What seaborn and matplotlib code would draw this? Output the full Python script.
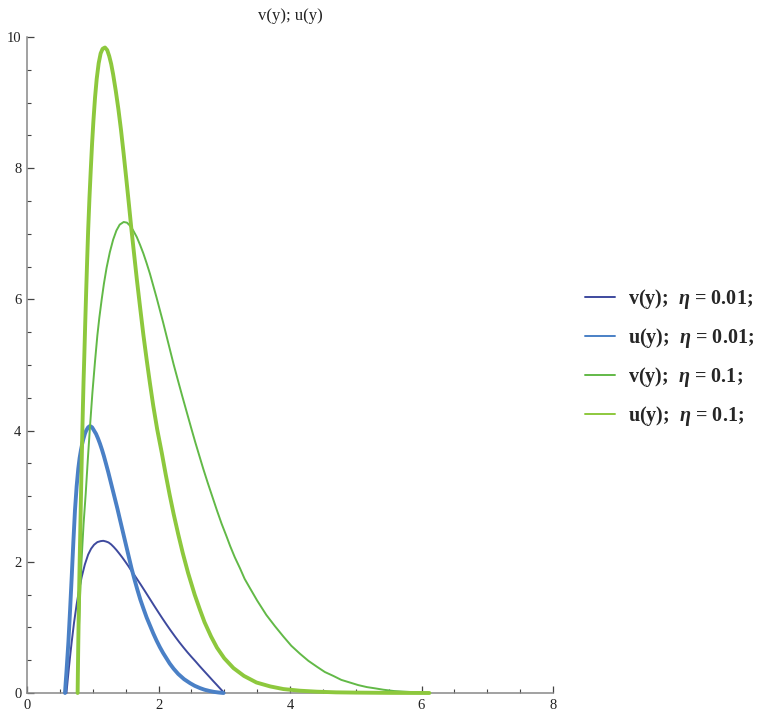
import matplotlib
matplotlib.use("Agg")
import matplotlib.pyplot as plt
from matplotlib.ticker import MultipleLocator
from matplotlib.lines import Line2D
import seaborn as sns

# ---- data ----
x_v01 = [0.60, 0.62, 0.64, 0.66, 0.68, 0.715, 0.755, 0.79, 0.83, 0.88, 0.93, 0.975, 1.02, 1.07,
         1.12, 1.16, 1.20, 1.24, 1.28, 1.32, 1.36, 1.40, 1.45, 1.50, 1.545, 1.59, 1.66, 1.73,
         1.80, 1.87, 1.935, 2.00, 2.06, 2.12, 2.185, 2.25, 2.315, 2.38, 2.44, 2.50, 2.565,
         2.63, 2.695, 2.76, 2.825, 2.89, 2.945, 3.00]
y_v01 = [0.0, 0.21, 0.41, 0.60, 0.78, 1.07, 1.35, 1.56, 1.76, 1.96, 2.11, 2.20, 2.26, 2.30,
         2.315, 2.32, 2.31, 2.295, 2.265, 2.225, 2.18, 2.13, 2.065, 1.995, 1.93, 1.86, 1.758,
         1.652, 1.543, 1.432, 1.329, 1.228, 1.136, 1.047, 0.953, 0.863, 0.776, 0.694, 0.621,
         0.552, 0.48, 0.405, 0.333, 0.262, 0.19, 0.12, 0.06, 0.0]

x_u01 = [0.578, 0.59, 0.60, 0.615, 0.63, 0.655, 0.68, 0.705, 0.73, 0.755, 0.78, 0.80, 0.82,
         0.84, 0.857, 0.88, 0.90, 0.93, 0.958, 0.99, 1.02, 1.05, 1.08, 1.11, 1.14, 1.17, 1.20,
         1.235, 1.27, 1.305, 1.34, 1.375, 1.41, 1.455, 1.50, 1.545, 1.59, 1.635, 1.68, 1.725,
         1.77, 1.82, 1.87, 1.92, 1.97, 2.02, 2.07, 2.12, 2.17, 2.23, 2.30, 2.39, 2.48, 2.55,
         2.63, 2.70, 2.78, 2.85, 2.92, 2.99]
y_u01 = [0.0, 0.18, 0.32, 0.55, 0.78, 1.26, 1.77, 2.30, 2.79, 3.15, 3.42, 3.58, 3.70,
         3.80, 3.87, 3.95, 4.00, 4.05, 4.07, 4.05, 4.00, 3.95, 3.88, 3.80, 3.71, 3.61, 3.50,
         3.37, 3.23, 3.09, 2.95, 2.81, 2.66, 2.47, 2.28, 2.09, 1.90, 1.73, 1.57, 1.42,
         1.29, 1.15, 1.03, 0.91, 0.80, 0.70, 0.61, 0.53, 0.45, 0.37, 0.29, 0.21, 0.15, 0.11,
         0.075, 0.05, 0.03, 0.016, 0.007, 0.0]

x_v1 = [0.77, 0.78, 0.79, 0.81, 0.83, 0.86, 0.893, 0.925, 0.958, 0.995, 1.034, 1.07, 1.10,
        1.136, 1.17, 1.21, 1.26, 1.31, 1.36, 1.41, 1.47, 1.52, 1.56, 1.61, 1.67, 1.72, 1.77,
        1.82, 1.87, 1.92, 1.97, 2.02, 2.07, 2.12, 2.17, 2.23, 2.30, 2.36, 2.43, 2.50, 2.56,
        2.62, 2.68, 2.75, 2.82, 2.89, 2.96, 3.03, 3.09, 3.16, 3.24, 3.31, 3.39, 3.50, 3.64,
        3.77, 3.90, 4.02, 4.15, 4.28, 4.41, 4.53, 4.66, 4.78, 4.91, 5.04, 5.17, 5.30, 5.42,
        5.58, 5.75, 5.93, 6.12]
y_v1 = [0.0, 0.50, 1.01, 1.55, 2.03, 2.57, 3.04, 3.56, 4.06, 4.58, 5.05, 5.45, 5.72,
        6.00, 6.24, 6.48, 6.72, 6.91, 7.05, 7.14, 7.18, 7.17, 7.13, 7.06, 6.95, 6.83, 6.70,
        6.55, 6.39, 6.21, 6.03, 5.84, 5.65, 5.45, 5.25, 5.01, 4.75, 4.53, 4.28, 4.03, 3.82,
        3.62, 3.42, 3.20, 2.99, 2.78, 2.58, 2.40, 2.24, 2.07, 1.90, 1.74, 1.60, 1.41, 1.19,
        1.02, 0.86, 0.72, 0.60, 0.49, 0.40, 0.32, 0.26, 0.20, 0.16, 0.12, 0.09, 0.07, 0.05,
        0.03, 0.02, 0.01, 0.0]

x_u1 = [0.77, 0.775, 0.78, 0.79, 0.80, 0.81, 0.82, 0.83, 0.84, 0.85, 0.86, 0.872, 0.885,
        0.90, 0.915, 0.93, 0.95, 0.97, 0.99, 1.01, 1.035, 1.06, 1.09, 1.12, 1.15, 1.186,
        1.22, 1.25, 1.28, 1.31, 1.35, 1.39, 1.43, 1.47, 1.51, 1.55, 1.59, 1.63, 1.67, 1.72,
        1.77, 1.82, 1.87, 1.92, 1.98, 2.05, 2.11, 2.17, 2.23, 2.30, 2.37, 2.45, 2.55, 2.63,
        2.70, 2.80, 2.89, 3.00, 3.14, 3.30, 3.49, 3.70, 3.90, 4.15, 4.41, 4.70, 5.0, 5.5, 6.12]
y_u1 = [0.0, 0.40, 0.76, 1.40, 1.95, 2.45, 2.95, 3.45, 3.92, 4.35, 4.75, 5.15, 5.62,
        6.12, 6.60, 7.05, 7.55, 7.98, 8.38, 8.72, 9.08, 9.36, 9.60, 9.75, 9.82, 9.84,
        9.80, 9.71, 9.59, 9.43, 9.18, 8.90, 8.58, 8.22, 7.84, 7.45, 7.05, 6.68, 6.31, 5.88,
        5.46, 5.08, 4.72, 4.38, 4.02, 3.66, 3.33, 3.02, 2.73, 2.42, 2.13, 1.83, 1.50, 1.27,
        1.08, 0.86, 0.69, 0.53, 0.38, 0.26, 0.16, 0.10, 0.06, 0.035, 0.02, 0.01, 0.006, 0.002, 0.0]

labels = [r"v(y);  $\mathbfit{\eta}$ = 0.01;", r"u(y);  $\mathbfit{\eta}$ = 0.01;",
          r"v(y);  $\mathbfit{\eta}$ = 0.1;", r"u(y);  $\mathbfit{\eta}$ = 0.1;"]
colors = ["#3e4a9e", "#4a80c6", "#62b947", "#8dc83d"]
widths = [1.4, 2.8, 1.4, 2.8]
x_ticks = [0, 2, 4, 6, 8]
y_ticks = [0, 2, 4, 6, 8, 10]

# ---- style ----
sns.set_style("ticks")
plt.rcParams["font.family"] = ["Liberation Serif", "DejaVu Serif"]
plt.rcParams["mathtext.fontset"] = "custom"
plt.rcParams["mathtext.rm"] = "Liberation Serif"
plt.rcParams["mathtext.it"] = "Liberation Serif:italic"
plt.rcParams["mathtext.bf"] = "Liberation Serif:bold"
try:
    plt.rcParams["mathtext.bfit"] = "Liberation Serif:bold:italic"
except KeyError:
    pass

fig = plt.figure(figsize=(7.66, 7.17), dpi=100)
ax = fig.add_axes([27 / 766, 1 - 693 / 717, (553 - 27) / 766, (693 - 37) / 717])

series = [(x_v01, y_v01), (x_u01, y_u01), (x_v1, y_v1), (x_u1, y_u1)]
for (xs, ys), c, w in zip(series, colors, widths):
    sns.lineplot(x=xs, y=ys, ax=ax, color=c, linewidth=w, sort=False,
                 estimator=None, legend=False, clip_on=False, zorder=3,
                 solid_joinstyle="round", solid_capstyle="round")

ax.set_xlim(0, 8)
ax.set_ylim(0, 10)
ax.set_xticks(x_ticks)
ax.set_yticks(y_ticks)
ax.xaxis.set_minor_locator(MultipleLocator(0.5))
ax.yaxis.set_minor_locator(MultipleLocator(0.5))
ax.tick_params(which="major", direction="in", length=5, width=0.9, color="#444444",
               labelsize=10.5, labelcolor="#222222", pad=4)
ax.tick_params(which="minor", direction="in", length=3, width=0.8, color="#444444")
for s in ["top", "right"]:
    ax.spines[s].set_visible(False)
for s in ["left", "bottom"]:
    ax.spines[s].set_color("#888888")
    ax.spines[s].set_linewidth(1.1)
ax.set_xlabel("")
ax.set_ylabel("")
ax.set_title("v(y); u(y)", fontsize=12, color="#222222", pad=12)

handles = [Line2D([0], [0], color=c, lw=1.4) for c in colors]
fig.legend(handles, labels, loc="center left", bbox_to_anchor=(0.750, 0.501),
           frameon=False, prop={"family": "Liberation Serif", "weight": "bold", "size": 14.5},
           handlelength=1.5, handletextpad=0.65, labelspacing=0.75, borderpad=0)

fig.savefig("out.png", dpi=100)
